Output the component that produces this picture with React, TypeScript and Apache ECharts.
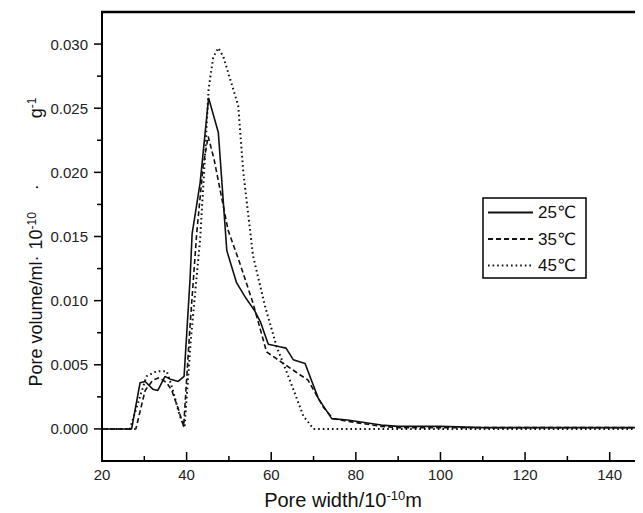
import React, { useEffect, useRef } from "react";
import * as echarts from "echarts";

// Pore width (10^-10 m) and pore volume (ml·10^-10·g^-1)
const widths25 = [20, 27, 29, 30.2, 32, 33.2, 34.9, 36, 38, 39.4, 40.8, 41.3, 43.2, 45.2, 47.5, 49.5, 51.8, 54, 56.1, 57.5, 59.3, 62, 63.5, 65.2, 68, 71.1, 74.3, 78, 82, 86, 90, 100, 110, 120, 130, 146];
const values25 = [0, 0, 0.0036, 0.0037, 0.0031, 0.003, 0.0041, 0.0039, 0.0037, 0.0041, 0.0116, 0.0152, 0.0192, 0.0258, 0.0231, 0.0139, 0.0114, 0.0102, 0.0092, 0.0083, 0.0066, 0.0064, 0.0063, 0.0054, 0.0051, 0.0024, 0.0008, 0.0007, 0.0005, 0.0003, 0.0002, 0.0002, 0.0001, 0.0001, 0.0001, 0.0001];

const widths35 = [20, 28, 30.2, 32, 33.5, 35.3, 36.5, 38, 39.3, 40.8, 42.4, 43.9, 45.1, 46.5, 48, 49.8, 52.6, 55.7, 58.9, 62, 66, 68.7, 72.3, 74.6, 78, 82, 86, 90, 100, 110, 120, 130, 146];
const values35 = [0, 0, 0.003, 0.0038, 0.004, 0.0036, 0.003, 0.0016, 0.0002, 0.008, 0.0153, 0.0205, 0.0228, 0.021, 0.0185, 0.0155, 0.0129, 0.0098, 0.006, 0.0053, 0.0044, 0.0038, 0.0017, 0.0008, 0.0006, 0.0004, 0.0002, 0.0001, 0.0001, 0.0001, 0.0001, 0.0001, 0.0001];

const widths45 = [20, 26.6, 28.2, 30.5, 32.9, 35.3, 36.5, 38.4, 39.5, 41, 43.2, 44.3, 45.2, 46.3, 47.5, 48.7, 49.8, 51, 52.2, 53.4, 55.7, 58.5, 61.3, 64.4, 67.6, 70, 80, 100, 120, 146];
const values45 = [0, 0, 0.0017, 0.0041, 0.0045, 0.0045, 0.0033, 0.001, 0.0001, 0.007, 0.0148, 0.021, 0.0265, 0.029, 0.0297, 0.029, 0.0278, 0.0265, 0.0252, 0.02, 0.0135, 0.0096, 0.0064, 0.0038, 0.001, 0, 0, 0, 0, 0];

const seriesNames = ["25℃", "35℃", "45℃"];
const X_MIN = 20;
const X_MAX = 150;
const Y_MIN = -0.0025;
const Y_MAX = 0.0325;
const xMajorTicks = [20, 40, 60, 80, 100, 120, 140];
const xMinorTicks = [30, 50, 70, 90, 110, 130, 150];
const yMajorTicks = [0, 0.005, 0.01, 0.015, 0.02, 0.025, 0.03];
const yMinorTicks = [0.0025, 0.0075, 0.0125, 0.0175, 0.0225, 0.0275];

const FONT = "Liberation Sans, Arial, DejaVu Sans, sans-serif";

const pairs = (xs: number[], ys: number[]) => xs.map((x, i) => [x, ys[i]]);

export default function App() {
  const ref = useRef<HTMLDivElement>(null);
  useEffect(() => {
    if (!ref.current) return;
    const chart = echarts.init(ref.current, null, { renderer: "svg" });

    // Axis frame and tick marks, placed through the chart's own scales
    const renderFrame = (_params: any, api: any) => {
      const p = (x: number, y: number) => api.coord([x, y]) as number[];
      const children: any[] = [];
      const L = (a: number[], b: number[], w: number) =>
        children.push({
          type: "line",
          shape: { x1: a[0], y1: a[1], x2: b[0], y2: b[1] },
          style: { stroke: "#000", lineWidth: w },
        });
      const bl = p(X_MIN, Y_MIN);
      const tl = p(X_MIN, Y_MAX);
      const br = p(X_MAX, Y_MIN);
      const tr = p(X_MAX, Y_MAX);
      L(bl, tl, 2);
      L([bl[0] - 1, bl[1]], br, 2);
      L([tl[0] - 1, tl[1]], tr, 2.5);
      xMajorTicks.forEach((v) => {
        const q = p(v, Y_MIN);
        L(q, [q[0], q[1] - 9], 1.5);
      });
      xMinorTicks.forEach((v) => {
        const q = p(v, Y_MIN);
        L(q, [q[0], q[1] - 5], 1.5);
      });
      yMajorTicks.forEach((v) => {
        const q = p(X_MIN, v);
        L(q, [q[0] - 8, q[1]], 1.5);
      });
      yMinorTicks.forEach((v) => {
        const q = p(X_MIN, v);
        L(q, [q[0] - 5, q[1]], 1.5);
      });
      return { type: "group", children };
    };

    chart.setOption({
      animation: false,
      textStyle: { fontFamily: FONT },
      grid: { left: 94, top: 4, width: 550, height: 449, outerBoundsMode: "none" },
      xAxis: {
        type: "value",
        min: X_MIN,
        max: X_MAX,
        interval: 20,
        axisLine: { show: false, onZero: false },
        axisTick: { show: false },
        axisLabel: { customValues: xMajorTicks, fontSize: 15, color: "#222", margin: 6 },
        splitLine: { show: false },
      },
      yAxis: {
        type: "value",
        min: Y_MIN,
        max: Y_MAX,
        interval: 0.0025,
        axisLine: { show: false, onZero: false },
        axisTick: { show: false },
        axisLabel: {
          customValues: yMajorTicks,
          fontSize: 15,
          color: "#222",
          margin: 14,
          formatter: (v: number) => v.toFixed(3),
        },
        splitLine: { show: false },
      },
      legend: {
        data: seriesNames,
        orient: "vertical",
        left: 475,
        top: 190,
        padding: [6, 10, 4, 4],
        itemWidth: 45,
        itemHeight: 18,
        itemGap: 9.5,
        borderColor: "black",
        borderWidth: 1.5,
        itemStyle: { opacity: 0 },
        textStyle: { fontSize: 17, color: "#111" },
        selectedMode: false,
      },
      graphic: [
        {
          type: "text",
          x: 28,
          y: 234,
          rotation: Math.PI / 2,
          style: {
            text: "{a|Pore volume/ml·}{g1| }{a|10}{s|-10}{g2| }{a|·}{g3| }{a|g}{s|-1}",
            align: "center",
            verticalAlign: "middle",
            fill: "#111",
            rich: {
              a: { fontFamily: FONT, fontSize: 18, lineHeight: 20, fill: "#111" },
              s: { fontFamily: FONT, fontSize: 12, lineHeight: 20, verticalAlign: "top", fill: "#111" },
              g1: { fontSize: 18, width: 6 },
              g2: { fontSize: 18, width: 22 },
              g3: { fontSize: 18, width: 66 },
            },
          },
        },
        {
          type: "text",
          x: 335,
          y: 492,
          style: {
            text: "{a|Pore width/10}{s|-10}{a|m}",
            align: "center",
            verticalAlign: "middle",
            fill: "#111",
            rich: {
              a: { fontFamily: FONT, fontSize: 20, lineHeight: 22, fill: "#111" },
              s: { fontFamily: FONT, fontSize: 13, lineHeight: 22, verticalAlign: "top", fill: "#111" },
            },
          },
        },
      ],
      series: [
        {
          name: "axesFrame",
          type: "custom",
          coordinateSystem: "cartesian2d",
          silent: true,
          clip: false,
          data: [[X_MIN, 0]],
          renderItem: renderFrame,
          z: 5,
        },
        {
          name: seriesNames[0],
          type: "line",
          data: pairs(widths25, values25),
          symbol: "none",
          lineStyle: { color: "#111", width: 1.6, type: "solid" },
          itemStyle: { color: "#111" },
        },
        {
          name: seriesNames[1],
          type: "line",
          data: pairs(widths35, values35),
          symbol: "none",
          lineStyle: { color: "#111", width: 1.6, type: [5, 3] },
          itemStyle: { color: "#111" },
        },
        {
          name: seriesNames[2],
          type: "line",
          data: pairs(widths45, values45),
          symbol: "none",
          lineStyle: { color: "#111", width: 2, type: [1.6, 3] },
          itemStyle: { color: "#111" },
        },
      ],
    });
    return () => chart.dispose();
  }, []);
  return <div ref={ref} style={{ width: 635, height: 505 }} />;
}
